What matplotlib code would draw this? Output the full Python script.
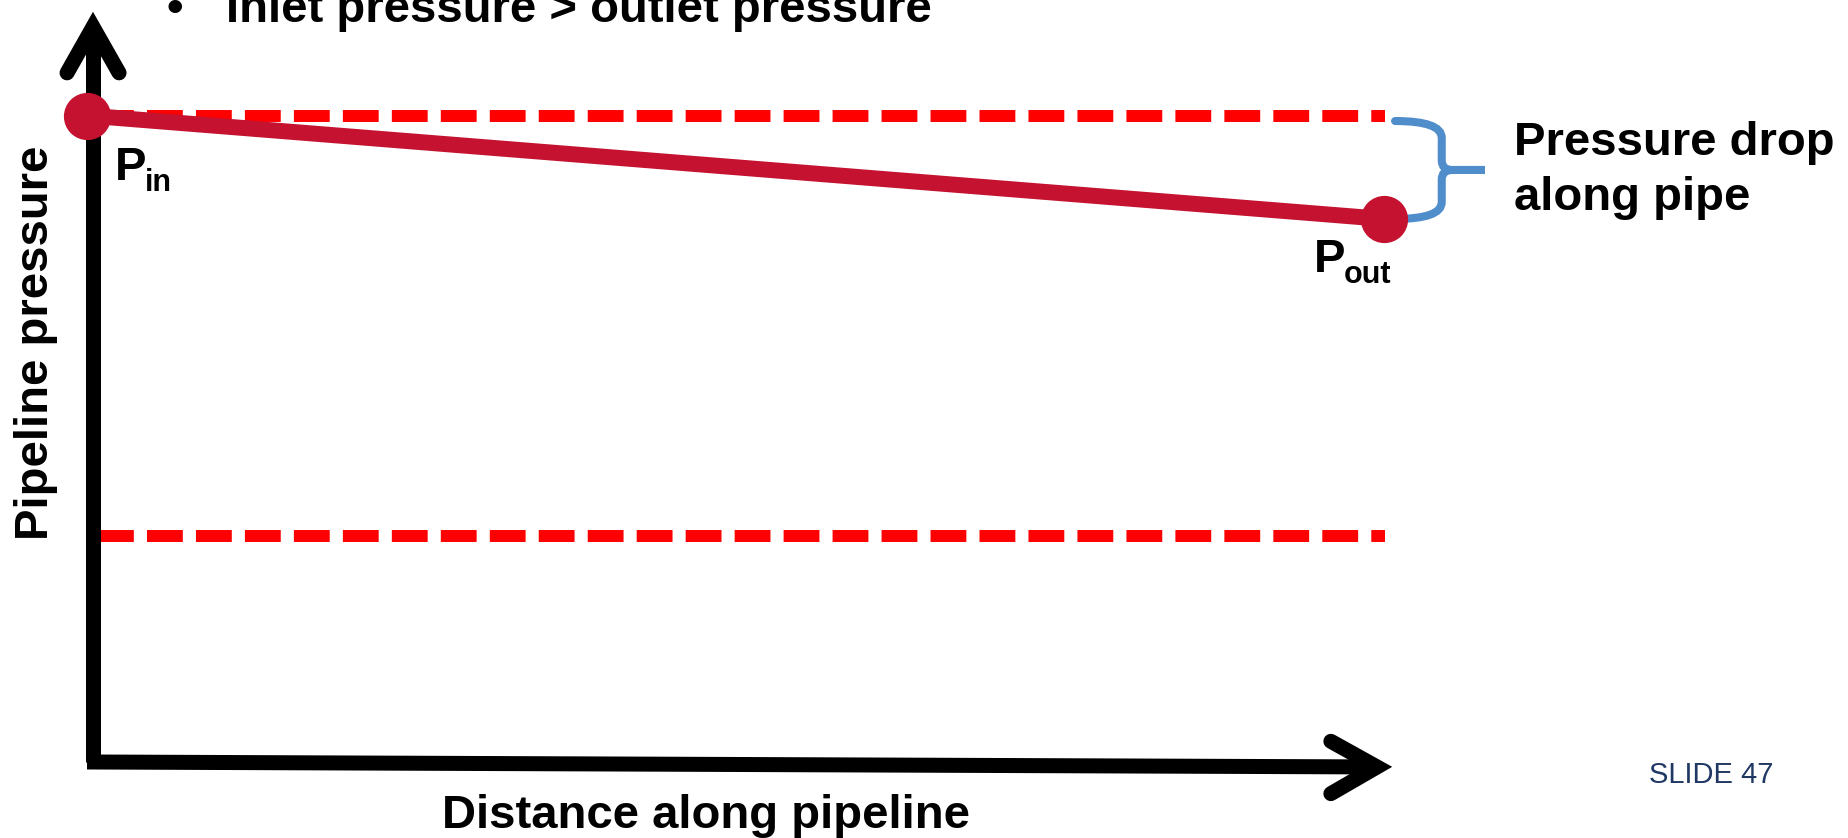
# -*- coding: utf-8 -*-
""" Pressure drop along a pipeline: inlet vs. outlet pressure """
import matplotlib
matplotlib.use('Agg')
import matplotlib.pyplot as plt
from matplotlib.path import Path
from matplotlib.patches import PathPatch

# pipeline profile (distance in km, pressure in bar)
distance_km = [0, 100]
pressure_bar = [100, 84]
p_min_bar = 35

title = u"Inlet pressure > outlet pressure"
xlabel = "Distance along pipeline"
ylabel = "Pipeline pressure"
brace_label = ["Pressure drop", "along pipe"]
slide_tag = "SLIDE 47"

PIPE_RED = '#C41230'
DASH_RED = '#FF0000'
BRACE_BLUE = '#4F8DCB'
FONT = 'Liberation Sans'

W, H, DPI = 1849, 838, 100


def fig_xy(px, py):
    """ pixel position (from top-left) -> figure fraction """
    return px / W, 1 - py / H


def draw_arrow(ax, start, tip, wing1, wing2, lw=10.8):
    """ thick black axis line with an open chevron head """
    ax.plot([start[0], tip[0]], [start[1], tip[1]], color='black', lw=lw,
            solid_capstyle='butt', zorder=2)
    ax.plot([wing1[0], tip[0], wing2[0]], [wing1[1], tip[1], wing2[1]],
            color='black', lw=lw, solid_capstyle='round',
            solid_joinstyle='miter', zorder=2)


def draw_brace(ax, x, y_bot, y_top, color, lw=5.8):
    """ curly brace opening to the left, pointing right """
    y_mid = (y_bot + y_top) / 2
    xv, xn, xt = x + 3.6, x + 4.4, x + 6.9
    dy_c, dy_n = 2.6, 1.5
    verts = [(x, y_top), (xv, y_top), (xv, y_top - dy_c),
             (xv, y_mid + dy_n), (xv, y_mid), (xn, y_mid), (xt, y_mid),
             (xn, y_mid), (xv, y_mid), (xv, y_mid - dy_n),
             (xv, y_bot + dy_c), (xv, y_bot), (x, y_bot)]
    codes = [Path.MOVETO, Path.CURVE3, Path.CURVE3,
             Path.LINETO, Path.CURVE3, Path.CURVE3, Path.LINETO,
             Path.LINETO, Path.CURVE3, Path.CURVE3,
             Path.LINETO, Path.CURVE3, Path.CURVE3]
    ax.add_patch(PathPatch(Path(verts, codes), fill=False, edgecolor=color,
                           lw=lw, capstyle='round', zorder=3))


def make_figure():
    fig = plt.figure(figsize=(W / DPI, H / DPI), dpi=DPI)
    ax = fig.add_axes([0, 0, 1, 1])
    ax.set_xlim(-6.71, 135.85)
    ax.set_ylim(-11.76, 117.87)
    ax.axis('off')

    length = distance_km[-1]

    # reference levels: inlet pressure and minimum pressure
    # (dash pattern is in multiples of the line width)
    for level in (pressure_bar[0], p_min_bar):
        ax.plot([distance_km[0] + 0.85, length + 0.1], [level, level],
                color=DASH_RED, lw=8.6, dashes=(3.0, 1.1),
                dash_capstyle='butt', zorder=1)

    # axes with arrow heads
    draw_arrow(ax, (0.46, 0), (0.46, 113.7), (-1.54, 106.6), (2.47, 106.6))
    draw_arrow(ax, (0.0, 0), (99.46, -0.77), (95.9, 3.2), (95.9, -4.9))

    # pressure profile
    ax.plot(distance_km, pressure_bar, color=PIPE_RED, lw=11.5,
            solid_capstyle='butt', zorder=4)
    ax.plot(distance_km, pressure_bar, 'o', color=PIPE_RED, ms=34,
            markeredgewidth=0, zorder=5)

    draw_brace(ax, length + 0.85, pressure_bar[-1], pressure_bar[0] - 0.85,
               BRACE_BLUE)

    bold = dict(family=FONT, weight='bold', color='black')
    for (x, y), (dx, dy, sub_dx, sub_dy, sub) in zip(
            zip(distance_km, pressure_bar),
            [(28, -64.5, 58, -75.5, 'in'), (-70, -53, -40, -64, 'out')]):
        ax.annotate('P', (x, y), xytext=(dx, dy), textcoords='offset pixels',
                    ha='left', va='baseline', size=34, **bold)
        ax.annotate(sub, (x, y), xytext=(sub_dx, sub_dy),
                    textcoords='offset pixels', ha='left', va='baseline',
                    size=22, **bold)

    fig.text(*fig_xy(167, 22), u"\u2022", ha='left', va='baseline', size=34,
             **bold)
    fig.text(*fig_xy(226, 22), title, ha='left', va='baseline', size=34,
             **bold)
    fig.text(*fig_xy(706, 828), xlabel, ha='center', va='baseline', size=34,
             **bold)
    fig.text(*fig_xy(48, 343), ylabel, ha='center', va='baseline', size=34,
             rotation=90, rotation_mode='anchor', **bold)
    fig.text(*fig_xy(1514, 155), brace_label[0], ha='left', va='baseline',
             size=34, **bold)
    fig.text(*fig_xy(1514, 210), brace_label[1], ha='left', va='baseline',
             size=34, **bold)
    fig.text(*fig_xy(1649, 783), slide_tag, ha='left', va='baseline',
             size=21, family=FONT, color='#203864')

    fig.savefig('out.png', dpi=DPI)


if __name__ == '__main__':
    make_figure()
